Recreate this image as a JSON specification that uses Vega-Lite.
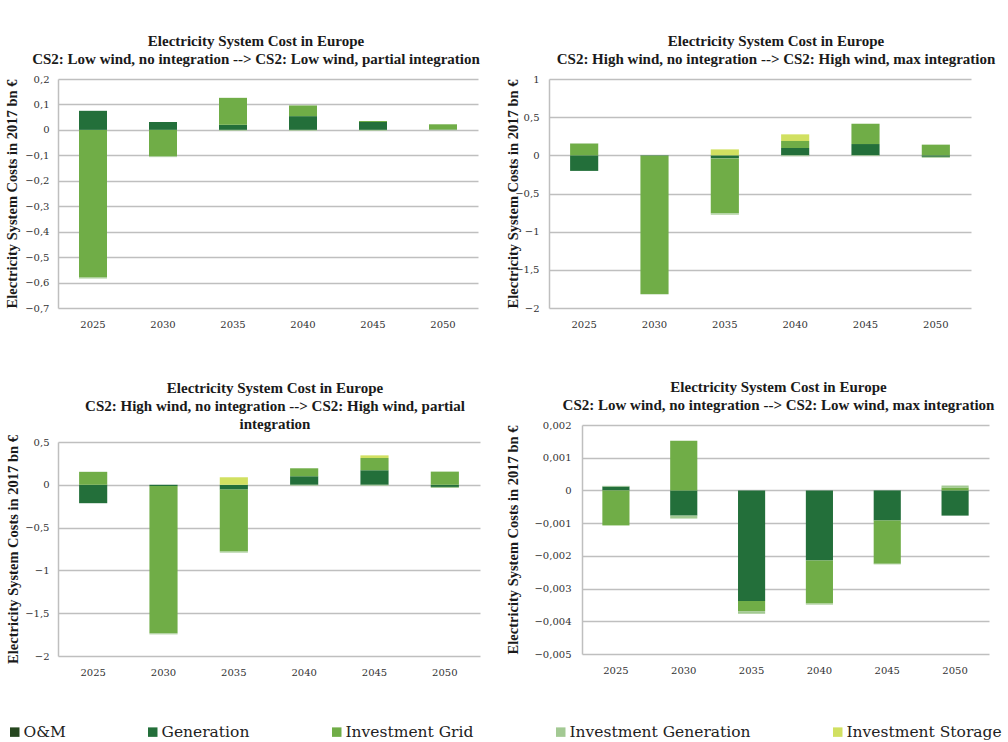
{
  "$schema": "https://vega.github.io/schema/vega-lite/v6.json",
  "background": "white",
  "padding": {"left": 4, "top": 34, "right": 0, "bottom": 0},
  "datasets": {
    "costs": [
      {"panel": "p1", "year": "2025", "cat": "O&M", "v": 0},
      {"panel": "p1", "year": "2025", "cat": "Generation", "v": 0.075},
      {"panel": "p1", "year": "2025", "cat": "Investment Grid", "v": -0.58},
      {"panel": "p1", "year": "2025", "cat": "Investment Generation", "v": -0.004},
      {"panel": "p1", "year": "2030", "cat": "Generation", "v": 0.031},
      {"panel": "p1", "year": "2030", "cat": "Investment Grid", "v": -0.104},
      {"panel": "p1", "year": "2030", "cat": "Investment Generation", "v": -0.003},
      {"panel": "p1", "year": "2035", "cat": "Generation", "v": 0.02},
      {"panel": "p1", "year": "2035", "cat": "Investment Grid", "v": 0.106},
      {"panel": "p1", "year": "2035", "cat": "Investment Generation", "v": -0.003},
      {"panel": "p1", "year": "2040", "cat": "Generation", "v": 0.054},
      {"panel": "p1", "year": "2040", "cat": "Investment Grid", "v": 0.042},
      {"panel": "p1", "year": "2040", "cat": "Investment Generation", "v": -0.003},
      {"panel": "p1", "year": "2045", "cat": "Generation", "v": 0.031},
      {"panel": "p1", "year": "2045", "cat": "Investment Grid", "v": 0.004},
      {"panel": "p1", "year": "2045", "cat": "Investment Generation", "v": -0.003},
      {"panel": "p1", "year": "2050", "cat": "Generation", "v": 0.001},
      {"panel": "p1", "year": "2050", "cat": "Investment Grid", "v": 0.021},
      {"panel": "p1", "year": "2050", "cat": "Investment Generation", "v": -0.001},

      {"panel": "p2", "year": "2025", "cat": "Generation", "v": -0.204},
      {"panel": "p2", "year": "2025", "cat": "Investment Grid", "v": 0.154},
      {"panel": "p2", "year": "2025", "cat": "Investment Generation", "v": 0.005},
      {"panel": "p2", "year": "2030", "cat": "Generation", "v": -0.006},
      {"panel": "p2", "year": "2030", "cat": "Investment Grid", "v": -1.81},
      {"panel": "p2", "year": "2030", "cat": "Investment Generation", "v": -0.006},
      {"panel": "p2", "year": "2035", "cat": "Generation", "v": -0.04},
      {"panel": "p2", "year": "2035", "cat": "Investment Grid", "v": -0.72},
      {"panel": "p2", "year": "2035", "cat": "Investment Generation", "v": -0.017},
      {"panel": "p2", "year": "2035", "cat": "Investment Storage", "v": 0.078},
      {"panel": "p2", "year": "2040", "cat": "Generation", "v": 0.096},
      {"panel": "p2", "year": "2040", "cat": "Investment Grid", "v": 0.092},
      {"panel": "p2", "year": "2040", "cat": "Investment Generation", "v": -0.012},
      {"panel": "p2", "year": "2040", "cat": "Investment Storage", "v": 0.087},
      {"panel": "p2", "year": "2045", "cat": "Generation", "v": 0.148},
      {"panel": "p2", "year": "2045", "cat": "Investment Grid", "v": 0.266},
      {"panel": "p2", "year": "2045", "cat": "Investment Generation", "v": -0.01},
      {"panel": "p2", "year": "2050", "cat": "Generation", "v": -0.02},
      {"panel": "p2", "year": "2050", "cat": "Investment Grid", "v": 0.14},
      {"panel": "p2", "year": "2050", "cat": "Investment Generation", "v": -0.012},

      {"panel": "p3", "year": "2025", "cat": "Generation", "v": -0.215},
      {"panel": "p3", "year": "2025", "cat": "Investment Grid", "v": 0.15},
      {"panel": "p3", "year": "2025", "cat": "Investment Generation", "v": 0.003},
      {"panel": "p3", "year": "2030", "cat": "Generation", "v": -0.015},
      {"panel": "p3", "year": "2030", "cat": "Investment Grid", "v": -1.72},
      {"panel": "p3", "year": "2030", "cat": "Investment Generation", "v": -0.012},
      {"panel": "p3", "year": "2035", "cat": "Generation", "v": -0.056},
      {"panel": "p3", "year": "2035", "cat": "Investment Grid", "v": -0.724},
      {"panel": "p3", "year": "2035", "cat": "Investment Generation", "v": -0.012},
      {"panel": "p3", "year": "2035", "cat": "Investment Storage", "v": 0.088},
      {"panel": "p3", "year": "2040", "cat": "Generation", "v": 0.1},
      {"panel": "p3", "year": "2040", "cat": "Investment Grid", "v": 0.093},
      {"panel": "p3", "year": "2040", "cat": "Investment Generation", "v": -0.01},
      {"panel": "p3", "year": "2045", "cat": "Generation", "v": 0.17},
      {"panel": "p3", "year": "2045", "cat": "Investment Grid", "v": 0.143},
      {"panel": "p3", "year": "2045", "cat": "Investment Generation", "v": -0.01},
      {"panel": "p3", "year": "2045", "cat": "Investment Storage", "v": 0.031},
      {"panel": "p3", "year": "2050", "cat": "Generation", "v": -0.025},
      {"panel": "p3", "year": "2050", "cat": "Investment Grid", "v": 0.154},
      {"panel": "p3", "year": "2050", "cat": "Investment Generation", "v": -0.012},

      {"panel": "p4", "year": "2025", "cat": "Generation", "v": 0.00012},
      {"panel": "p4", "year": "2025", "cat": "Investment Grid", "v": -0.00107},
      {"panel": "p4", "year": "2025", "cat": "Investment Generation", "v": 0.00002},
      {"panel": "p4", "year": "2030", "cat": "Generation", "v": -0.00077},
      {"panel": "p4", "year": "2030", "cat": "Investment Grid", "v": 0.00152},
      {"panel": "p4", "year": "2030", "cat": "Investment Generation", "v": -0.00009},
      {"panel": "p4", "year": "2035", "cat": "Generation", "v": -0.00338},
      {"panel": "p4", "year": "2035", "cat": "Investment Grid", "v": -0.00031},
      {"panel": "p4", "year": "2035", "cat": "Investment Generation", "v": -0.00008},
      {"panel": "p4", "year": "2040", "cat": "Generation", "v": -0.00214},
      {"panel": "p4", "year": "2040", "cat": "Investment Grid", "v": -0.00132},
      {"panel": "p4", "year": "2040", "cat": "Investment Generation", "v": -0.00003},
      {"panel": "p4", "year": "2045", "cat": "Generation", "v": -0.00092},
      {"panel": "p4", "year": "2045", "cat": "Investment Grid", "v": -0.00132},
      {"panel": "p4", "year": "2045", "cat": "Investment Generation", "v": -0.00002},
      {"panel": "p4", "year": "2050", "cat": "Generation", "v": -0.00077},
      {"panel": "p4", "year": "2050", "cat": "Investment Grid", "v": 0.00009},
      {"panel": "p4", "year": "2050", "cat": "Investment Generation", "v": 0.00006}
    ]
  },
  "data": {"name": "costs"},
  "transform": [{"calculate": "indexof(['O&M', 'Generation', 'Investment Grid', 'Investment Generation', 'Investment Storage'], datum.cat)", "as": "k"}],
  "concat": [
    {
      "width": 420, "height": 229,
      "title": {"text": ["Electricity System Cost in Europe", "CS2: Low wind, no integration --> CS2: Low wind, partial integration"], "dx": -12},
      "transform": [{"filter": "datum.panel === 'p1'"}],
      "mark": {"type": "bar"},
      "encoding": {
        "x": {"field": "year", "type": "nominal", "title": null, "scale": {"paddingInner": 0.6, "paddingOuter": 0.3}, "axis": {"labelAngle": 0}},
        "y": {"field": "v", "type": "quantitative", "stack": "zero", "title": "Electricity System Costs in 2017 bn €",
              "scale": {"domain": [-0.7, 0.2], "nice": false, "zero": false},
              "axis": {"values": [-0.7, -0.6, -0.5, -0.4, -0.3, -0.2, -0.1, 0, 0.1, 0.2], "format": ".1~f", "labelPadding": 9, "titlePadding": 5}},
        "order": {"field": "k", "type": "quantitative", "sort": "ascending"},
        "color": {"field": "cat", "type": "nominal",
                  "scale": {"domain": ["O&M", "Generation", "Investment Grid", "Investment Generation", "Investment Storage"], "range": ["#26471f", "#236f3a", "#70ad47", "#a3c993", "#d1e061"]},
                  "legend": {"title": null, "orient": "none", "legendX": -51, "legendY": 645}}
      }
    },
    {
      "width": 422, "height": 229,
      "title": {"text": ["Electricity System Cost in Europe", "CS2: High wind, no integration  --> CS2: High wind, max integration"], "dx": 16},
      "transform": [{"filter": "datum.panel === 'p2'"}],
      "mark": {"type": "bar"},
      "encoding": {
        "x": {"field": "year", "type": "nominal", "title": null, "scale": {"paddingInner": 0.6, "paddingOuter": 0.3}, "axis": {"labelAngle": 0}},
        "y": {"field": "v", "type": "quantitative", "stack": "zero", "title": "Electricity System Costs in 2017 bn €",
              "scale": {"domain": [-2, 1], "nice": false, "zero": false},
              "axis": {"values": [-2, -1.5, -1, -0.5, 0, 0.5, 1], "format": ".1~f", "labelPadding": 10, "maxExtent": 22, "titlePadding": 7}},
        "order": {"field": "k", "type": "quantitative", "sort": "ascending"},
        "color": {"field": "cat", "type": "nominal",
                  "scale": {"domain": ["O&M", "Generation", "Investment Grid", "Investment Generation", "Investment Storage"], "range": ["#26471f", "#236f3a", "#70ad47", "#a3c993", "#d1e061"]},
                  "legend": {"title": null, "orient": "none", "legendX": -51, "legendY": 645}}
      }
    },
    {
      "width": 422, "height": 214,
      "title": {"text": ["Electricity System Cost in Europe", "CS2: High wind, no integration  --> CS2: High wind, partial", "integration"], "dx": 6, "offset": 3},
      "transform": [{"filter": "datum.panel === 'p3'"}],
      "mark": {"type": "bar"},
      "encoding": {
        "x": {"field": "year", "type": "nominal", "title": null, "scale": {"paddingInner": 0.6, "paddingOuter": 0.3}, "axis": {"labelAngle": 0}},
        "y": {"field": "v", "type": "quantitative", "stack": "zero", "title": "Electricity System Costs in 2017 bn €",
              "scale": {"domain": [-2, 0.5], "nice": false, "zero": false},
              "axis": {"values": [-2, -1.5, -1, -0.5, 0, 0.5], "format": ".1~f", "labelPadding": 9, "titlePadding": 4}},
        "order": {"field": "k", "type": "quantitative", "sort": "ascending"},
        "color": {"field": "cat", "type": "nominal",
                  "scale": {"domain": ["O&M", "Generation", "Investment Grid", "Investment Generation", "Investment Storage"], "range": ["#26471f", "#236f3a", "#70ad47", "#a3c993", "#d1e061"]},
                  "legend": {"title": null, "orient": "none", "legendX": -51, "legendY": 645}}
      }
    },
    {
      "width": 407, "height": 229,
      "title": {"text": ["Electricity System Cost in Europe", "CS2: Low wind, no integration  --> CS2: Low wind, max integration"], "dx": -7},
      "transform": [{"filter": "datum.panel === 'p4'"}],
      "mark": {"type": "bar"},
      "encoding": {
        "x": {"field": "year", "type": "nominal", "title": null, "scale": {"paddingInner": 0.6, "paddingOuter": 0.3}, "axis": {"labelAngle": 0}},
        "y": {"field": "v", "type": "quantitative", "stack": "zero", "title": "Electricity System Costs in 2017 bn €",
              "scale": {"domain": [-0.005, 0.002], "nice": false, "zero": false},
              "axis": {"values": [-0.005, -0.004, -0.003, -0.002, -0.001, 0, 0.001, 0.002], "format": ".3~f", "labelPadding": 11, "titlePadding": 13}},
        "order": {"field": "k", "type": "quantitative", "sort": "ascending"},
        "color": {"field": "cat", "type": "nominal",
                  "scale": {"domain": ["O&M", "Generation", "Investment Grid", "Investment Generation", "Investment Storage"], "range": ["#26471f", "#236f3a", "#70ad47", "#a3c993", "#d1e061"]},
                  "legend": {"title": null, "orient": "none", "legendX": -51, "legendY": 645}}
      }
    }
  ],
  "columns": 2,
  "align": "none",
  "spacing": {"row": 51, "column": 25},
  "config": {
    "locale": {"number": {"decimal": ",", "thousands": ".", "grouping": [3], "currency": ["", " €"]}},
    "view": {"stroke": null},
    "font": "Liberation Serif",
    "title": {"font": "Liberation Serif", "fontWeight": "bold", "fontSize": 15, "lineHeight": 18, "color": "#1a1a1a", "offset": 7, "anchor": "middle"},
    "axis": {
      "labelFont": "DejaVu Serif", "labelFontSize": 10, "labelColor": "#333333",
      "titleFont": "Liberation Serif", "titleFontWeight": "bold", "titleFontSize": 14.5, "titleColor": "#1a1a1a",
      "ticks": false, "domainColor": "#bfbfbf", "domainWidth": 1.5, "gridColor": "#bfbfbf", "gridWidth": 1.5
    },
    "axisX": {"grid": false, "labelPadding": 11, "domain": false},
    "axisY": {"grid": true, "domain": true},
    "legend": {
      "direction": "horizontal", "symbolType": "square", "symbolSize": 90, "symbolStrokeWidth": 0,
      "labelFont": "DejaVu Serif", "labelFontSize": 15.5, "labelColor": "#222222", "labelOffset": 1, "columnPadding": 79, "labelLimit": 400
    }
  }
}
